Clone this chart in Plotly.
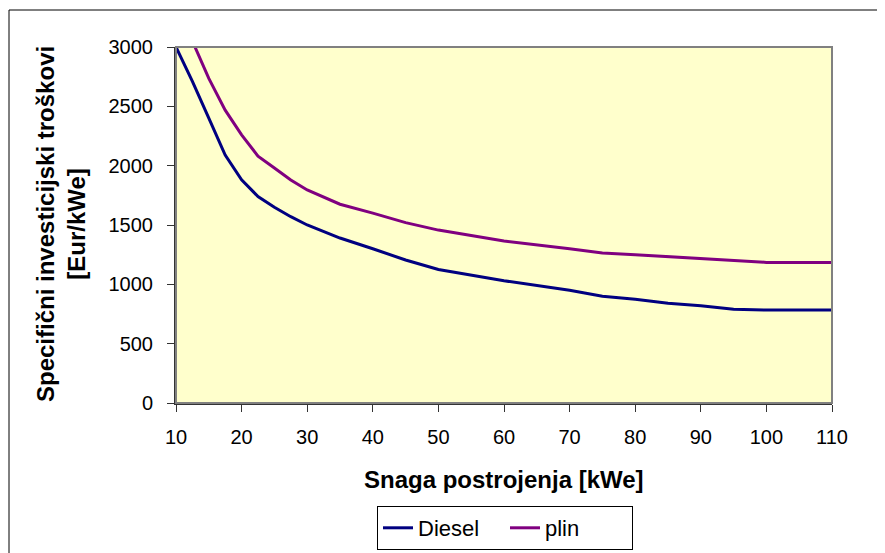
import plotly.graph_objects as go

snaga = [10, 12.5, 15, 17.5, 20, 22.5, 25, 27.5, 30, 35, 40, 45, 50, 60, 70, 75, 80, 85, 90, 95, 100, 110]
diesel = [3000, 2710, 2400, 2090, 1880, 1740, 1650, 1570, 1500, 1390, 1300, 1205, 1125, 1030, 950, 900, 875, 840, 820, 790, 783, 783]
plin = [3400, 3050, 2735, 2468, 2260, 2080, 1980, 1880, 1795, 1675, 1600, 1520, 1457, 1365, 1300, 1265, 1250, 1235, 1215, 1200, 1185, 1185]

x_ticks = [10, 20, 30, 40, 50, 60, 70, 80, 90, 100, 110]
y_ticks = [0, 500, 1000, 1500, 2000, 2500, 3000]

OFF = 8  # default page body margin
W, H = 885 - OFF, 553 - OFF
L, R, T, B = 176 - OFF, 832 - OFF, 47 - OFF, 403 - OFF
pw, ph = R - L, B - T


def px(x):
    return (x - OFF - L) / pw


def py(y):
    return (B - (y - OFF)) / ph


font = "Liberation Sans, Arial, sans-serif"

fig = go.Figure()
fig.add_trace(go.Scatter(x=snaga, y=diesel, mode="lines", name="Diesel",
                         line=dict(color="#000080", width=3)))
fig.add_trace(go.Scatter(x=snaga, y=plin, mode="lines", name="plin",
                         line=dict(color="#800080", width=3)))

fig.update_layout(
    width=W, height=H,
    margin=dict(l=L, r=W - R, t=T, b=H - B, pad=0),
    paper_bgcolor="white",
    plot_bgcolor="#FFFFCC",
    font=dict(family=font, size=20, color="black"),
    showlegend=True,
    legend=dict(orientation="h", xref="container", yref="container",
                x=(505 - OFF) / W, y=1 - (528 - OFF) / H, xanchor="center", yanchor="middle",
                bordercolor="black", borderwidth=1, bgcolor="white",
                font=dict(size=22), itemwidth=30, tracegroupgap=0,
                entrywidth=82, entrywidthmode="pixels"),
    xaxis=dict(range=[10, 110], tickvals=x_ticks, ticktext=[str(v) for v in x_ticks],
               showgrid=False, zeroline=False, showline=True, linecolor="#333333",
               linewidth=2, ticks="outside", ticklen=7, tickcolor="#333333",
               tickfont=dict(size=20), ticklabelstandoff=8),
    yaxis=dict(range=[0, 3000], tickvals=y_ticks, ticktext=[str(v) for v in y_ticks],
               showgrid=False, zeroline=False, showline=True, linecolor="#333333",
               linewidth=2, ticks="outside", ticklen=7, tickcolor="#333333",
               tickfont=dict(size=20), ticklabelstandoff=10),
    shapes=[
        dict(type="rect", xref="paper", yref="paper", x0=0, x1=1, y0=0, y1=1,
             line=dict(color="#808080", width=2), layer="above"),
        dict(type="rect", xref="paper", yref="paper", x0=px(9), x1=px(895),
             y0=py(565), y1=py(10), line=dict(color="black", width=1), layer="below"),
    ],
    annotations=[
        dict(text="<b>Specifični investicijski troškovi<br>[Eur/kWe]</b>", xref="paper", yref="paper",
             x=px(61), y=py(224), textangle=-90, showarrow=False,
             xanchor="center", yanchor="middle", font=dict(size=24)),
        dict(text="<b>Snaga postrojenja [kWe]</b>", xref="paper", yref="paper",
             x=px(504), y=py(480), showarrow=False, xanchor="center", yanchor="middle",
             font=dict(size=24)),
    ],
)

fig.write_html("out.html")
